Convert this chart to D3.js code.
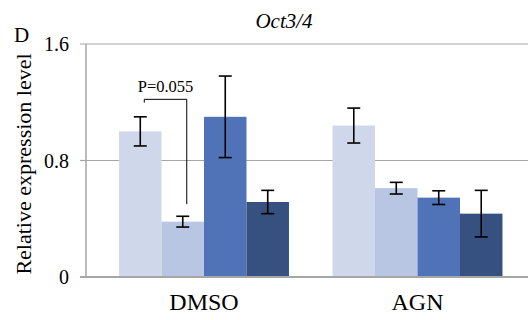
<!DOCTYPE html>
<html><head><meta charset="utf-8">
<script src="https://cdn.jsdelivr.net/npm/d3@7/dist/d3.min.js"></script>
<style>body{margin:0;background:#fff}svg{display:block}text{font-family:"Liberation Serif","Times New Roman",Times,"DejaVu Serif",serif}</style>
</head><body>
<svg id="c" width="528" height="320"></svg>
<script>
const categories = ["DMSO", "AGN"];
const seriesNames = ["s1", "s2", "s3", "s4"];
const values = [
  [1.00, 0.38, 1.10, 0.515],
  [1.04, 0.61, 0.545, 0.435]
];
const errors = [
  [0.10, 0.037, 0.28, 0.08],
  [0.12, 0.04, 0.047, 0.16]
];
const colors = ["#CFD8EB", "#B8C6E3", "#5073B8", "#36517F"];
const yTicks = [0, 0.8, 1.6];
const yTickLabels = ["0", "0.8", "1.6"];
const title = "Oct3/4";
const yLabel = "Relative expression level";
const panel = "D";
const pLabel = "P=0.055";
const bracket = {top: 1.22, leftEnd: 1.197, rightEnd: 0.50};

const svg = d3.select("#c");
const y = d3.scaleLinear().domain([0, 1.6]).range([277, 44]);
const x0 = d3.scaleBand().domain(categories).range([97.25, 524.25]).paddingInner(0.204).paddingOuter(0.102);
const x1 = d3.scaleBand().domain(seriesNames).range([0, x0.bandwidth()]);

// gridlines
svg.append("g").selectAll("line").data(yTicks.filter(t => t > 0)).join("line")
  .attr("x1", 80).attr("x2", 528).attr("y1", d => y(d)).attr("y2", d => y(d))
  .attr("stroke", "#A6A6A6").attr("stroke-width", 1.2);
// left axis
svg.append("line").attr("x1", 86).attr("x2", 86).attr("y1", y(1.6)).attr("y2", y(0))
  .attr("stroke", "#A6A6A6").attr("stroke-width", 1.5);
svg.append("line").attr("x1", 80).attr("x2", 86).attr("y1", y(0.8)).attr("y2", y(0.8))
  .attr("stroke", "#A6A6A6").attr("stroke-width", 1.2);

// bars
const g = svg.append("g");
categories.forEach((c, ci) => {
  seriesNames.forEach((s, si) => {
    const v = values[ci][si];
    g.append("rect").attr("x", x0(c) + x1(s)).attr("width", x1.bandwidth())
      .attr("y", y(v)).attr("height", y(0) - y(v)).attr("fill", colors[si]);
  });
});

// baseline axis
svg.append("line").attr("x1", 80).attr("x2", 528).attr("y1", y(0)).attr("y2", y(0))
  .attr("stroke", "#A6A6A6").attr("stroke-width", 2);

// error bars
categories.forEach((c, ci) => {
  seriesNames.forEach((s, si) => {
    const v = values[ci][si], e = errors[ci][si];
    const cx = x0(c) + x1(s) + x1.bandwidth() / 2;
    const eg = svg.append("g").attr("stroke", "#000").attr("stroke-width", 1.6);
    eg.append("line").attr("x1", cx).attr("x2", cx).attr("y1", y(v + e)).attr("y2", y(v - e));
    eg.append("line").attr("x1", cx - 6.5).attr("x2", cx + 6.5).attr("y1", y(v + e)).attr("y2", y(v + e));
    eg.append("line").attr("x1", cx - 6.5).attr("x2", cx + 6.5).attr("y1", y(v - e)).attr("y2", y(v - e));
  });
});

// tick labels
svg.append("g").selectAll("text").data(yTicks).join("text")
  .attr("x", 69).attr("y", d => y(d) + 7).attr("text-anchor", "end")
  .attr("font-size", 20).attr("fill", "#000")
  .text((d, i) => yTickLabels[i]);

// category labels
svg.append("g").selectAll("text").data(categories).join("text")
  .attr("x", d => x0(d) + x0.bandwidth() / 2).attr("y", 310).attr("text-anchor", "middle")
  .attr("font-size", 24).attr("fill", "#000").text(d => d);

// y label
svg.append("text").attr("transform", "translate(31,164) rotate(-90)").attr("text-anchor", "middle")
  .attr("font-size", 22).attr("fill", "#000").text(yLabel);

// title
svg.append("text").attr("x", 284).attr("y", 28).attr("text-anchor", "middle")
  .attr("font-style", "italic").attr("font-size", 21).attr("fill", "#000").text(title);

// panel letter
svg.append("text").attr("x", 14).attr("y", 42)
  .attr("font-size", 21).attr("fill", "#000").text(panel);

// bracket
const bl = x0("DMSO") + x1("s1") + x1.bandwidth() / 2 + 4;
const br = x0("DMSO") + x1("s2") + x1.bandwidth() / 2 + 4;
svg.append("path")
  .attr("d", `M${bl},${y(bracket.leftEnd)}V${y(bracket.top)}H${br}V${y(bracket.rightEnd)}`)
  .attr("fill", "none").attr("stroke", "#000").attr("stroke-width", 1);
svg.append("text").attr("x", (bl + br) / 2).attr("y", 92).attr("text-anchor", "middle")
  .attr("font-size", 16.5).attr("fill", "#000").text(pLabel);
</script>
</body></html>
